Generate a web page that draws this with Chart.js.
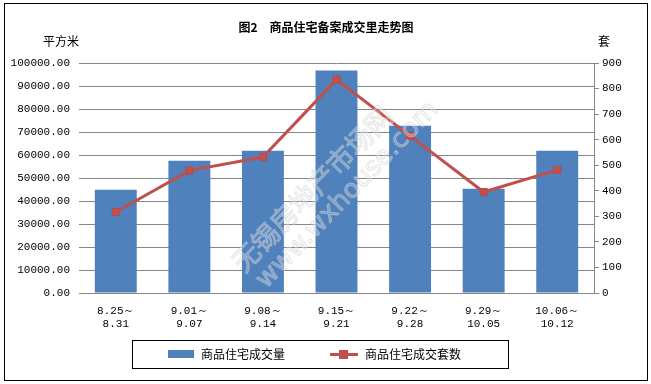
<!DOCTYPE html>
<html>
<head>
<meta charset="utf-8">
<script src="https://cdn.jsdelivr.net/npm/chart.js@4/dist/chart.umd.min.js"></script>
<style>
html,body{margin:0;padding:0;background:#fff;}
canvas{display:block;}
</style>
</head>
<body>
<canvas id="c" width="651" height="384"></canvas>
<script>
// ---- data ----
const categories = [
  ['8.25～', '8.31'],
  ['9.01～', '9.07'],
  ['9.08～', '9.14'],
  ['9.15～', '9.21'],
  ['9.22～', '9.28'],
  ['9.29～', '10.05'],
  ['10.06～', '10.12']
];
const areaValues = [44900, 57500, 61900, 96700, 72700, 45300, 61900];   // 平方米
const unitValues = [317, 479, 532, 835, 615, 395, 482];                 // 套
const seriesNames = ['商品住宅成交量', '商品住宅成交套数'];
const chartTitle = '图2　商品住宅备案成交里走势图';
const leftUnit = '平方米';
const rightUnit = '套';

const BLUE = '#4F81BD';
const RED = '#C0504D';
const GRID = '#868686';
const CJK = '"Noto Sans CJK SC", "Noto Sans", sans-serif';
const MONO = '"Liberation Mono", "DejaVu Sans Mono", monospace';

const decor = {
  id: 'decor',
  afterDatasetsDraw(chart) {
    const ctx = chart.ctx;
    // watermark
    ctx.save();
    ctx.translate(322, 190);
    ctx.rotate(-46 * Math.PI / 180);
    ctx.textAlign = 'center';
    ctx.textBaseline = 'middle';
    ctx.lineWidth = 1;
    ctx.strokeStyle = 'rgba(205,205,205,0.55)';
    ctx.fillStyle = 'rgba(255,255,255,0.25)';
    ctx.font = '27px ' + CJK;
    ctx.fillText('无锡房地产市场网', -6, -8);
    ctx.strokeText('无锡房地产市场网', -6, -8);
    ctx.font = '26px "DejaVu Sans", sans-serif';
    ctx.fillText('www.wxhouse.com', 14, 22);
    ctx.strokeText('www.wxhouse.com', 14, 22);
    ctx.restore();
  },
  afterDraw(chart) {
    const ctx = chart.ctx;
    ctx.save();
    // outer border
    ctx.strokeStyle = '#000';
    ctx.lineWidth = 1;
    ctx.strokeRect(4.5, 3.5, 643, 377);
    // title
    ctx.fillStyle = '#000';
    ctx.textBaseline = 'middle';
    ctx.textAlign = 'center';
    ctx.font = 'bold 12px ' + CJK;
    ctx.fillText(chartTitle, 326, 27);
    // axis unit labels
    ctx.font = '12px ' + CJK;
    ctx.fillText(leftUnit, 61, 41);
    ctx.fillText(rightUnit, 604, 41);
    // legend box
    ctx.strokeRect(132.5, 340.5, 376, 28);
    // bar swatch
    ctx.fillStyle = BLUE;
    ctx.fillRect(168, 350, 26, 8);
    ctx.fillStyle = '#000';
    ctx.textAlign = 'left';
    ctx.font = '12px ' + CJK;
    ctx.fillText(seriesNames[0], 201, 354.5);
    // line swatch
    ctx.strokeStyle = RED;
    ctx.lineWidth = 3;
    ctx.beginPath();
    ctx.moveTo(330, 354.5);
    ctx.lineTo(358, 354.5);
    ctx.stroke();
    ctx.fillStyle = RED;
    ctx.fillRect(339, 350, 9, 9);
    ctx.fillStyle = '#000';
    ctx.fillText(seriesNames[1], 365, 354.5);
    ctx.restore();
  }
};

new Chart(document.getElementById('c'), {
  data: {
    labels: categories,
    datasets: [
      {
        type: 'line',
        label: seriesNames[1],
        data: unitValues,
        yAxisID: 'y1',
        borderColor: RED,
        borderWidth: 3,
        backgroundColor: RED,
        pointStyle: 'rect',
        pointRadius: 5,
        pointBorderColor: '#B84A47',
        pointBorderWidth: 1,
        pointBackgroundColor: RED,
        tension: 0,
        order: 1
      },
      {
        type: 'bar',
        label: seriesNames[0],
        data: areaValues,
        yAxisID: 'y',
        backgroundColor: BLUE,
        borderWidth: 0,
        categoryPercentage: 1.0,
        barPercentage: 0.57,
        order: 2
      }
    ]
  },
  options: {
    responsive: false,
    animation: false,
    devicePixelRatio: 1,
    layout: { padding: { top: 63, left: 0, right: 17, bottom: 51 } },
    plugins: {
      legend: { display: false },
      title: { display: false },
      tooltip: { enabled: false }
    },
    scales: {
      x: {
        offset: true,
        grid: { display: false, drawTicks: false },
        border: { display: true, color: GRID, width: 1 },
        ticks: {
          color: '#000',
          font: { family: MONO, size: 11, lineHeight: 1.2 },
          padding: 11,
          maxRotation: 0,
          autoSkip: false
        },
        afterFit(s) { s.height = 40; }
      },
      y: {
        position: 'left',
        min: 0,
        max: 100000,
        ticks: {
          stepSize: 10000,
          color: '#000',
          font: { family: MONO, size: 11 },
          padding: 9,
          callback: v => v.toFixed(2)
        },
        grid: { color: GRID, lineWidth: 1, drawTicks: false },
        border: { display: false },
        afterFit(s) { s.width = 79; }
      },
      y1: {
        position: 'right',
        min: 0,
        max: 900,
        ticks: {
          stepSize: 100,
          color: '#000',
          font: { family: MONO, size: 11 },
          padding: 3
        },
        grid: { drawOnChartArea: false, color: GRID, tickLength: 5 },
        border: { display: true, color: GRID, width: 1 },
        afterFit(s) { s.width = 40; }
      }
    }
  },
  plugins: [decor]
});
</script>
</body>
</html>
